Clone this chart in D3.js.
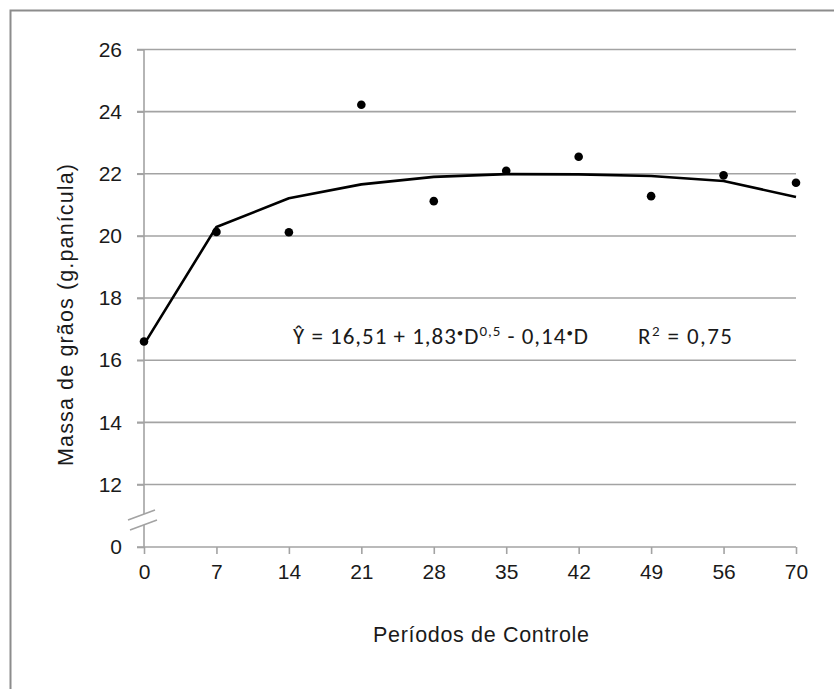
<!DOCTYPE html>
<html><head><meta charset="utf-8">
<script src="https://cdn.jsdelivr.net/npm/d3@7"></script>
<style>body{margin:0;background:#fff;}svg{display:block;}</style>
</head><body>
<script>
const periods = ["0","7","14","21","28","35","42","49","56","70"];
const observed = [16.6, 20.13, 20.12, 24.22, 21.12, 22.1, 22.55, 21.28, 21.95, 21.71];
const fitted = [16.51, 20.29, 21.21, 21.66, 21.9, 21.99, 21.98, 21.93, 21.77, 21.25];
const yTicks = [0, 12, 14, 16, 18, 20, 22, 24, 26];

const W = 834, H = 689;
const svg = d3.select("body").append("svg").attr("width", W).attr("height", H);
const sans = "Liberation Sans, Arial, sans-serif";
const ink = "#1a1a1a";

// frame
svg.append("path").attr("d", `M10.5,${H} V10.5 H${W}`).attr("fill","none").attr("stroke","#8c8c8c").attr("stroke-width",2);

const x = d3.scalePoint().domain(periods).range([144, 796]);
const y = d3.scaleLinear().domain([0, 12, 26]).range([547, 484.5, 49.5]);

const grid = "#a3a3a3";
// gridlines
svg.append("g").selectAll("line").data(yTicks.filter(d => d > 0)).join("line")
  .attr("x1", 137).attr("x2", 796).attr("y1", d => y(d)).attr("y2", d => y(d))
  .attr("stroke", grid).attr("stroke-width", 1.6);

// y axis
const yAxis = svg.append("g").attr("transform", "translate(144,0)")
  .call(d3.axisLeft(y).tickValues(yTicks).tickSize(7).tickPadding(15));
yAxis.select(".domain").attr("stroke", grid).attr("stroke-width", 1.6).attr("d", `M0,${y(26)}V${y(0)}`);
yAxis.selectAll(".tick line").attr("stroke", grid).attr("stroke-width", 1.6);
yAxis.selectAll("text").attr("font-family", sans).attr("font-size", 21).attr("fill", ink);

// x axis
const xAxis = svg.append("g").attr("transform", `translate(0,${y(0)})`)
  .call(d3.axisBottom(x).tickSize(7).tickPadding(10));
xAxis.select(".domain").attr("stroke", grid).attr("stroke-width", 1.6).attr("d", `M137,0H796`);
xAxis.selectAll(".tick line").attr("stroke", grid).attr("stroke-width", 1.6);
xAxis.selectAll("text").attr("font-family", sans).attr("font-size", 21).attr("fill", ink);

// axis break
svg.append("path").attr("d", "M128,520 L155,510 L157,520 L130,530 Z").attr("fill", "#fff");
svg.append("path").attr("d", "M128,520 L155,510 M130,530 L157,520").attr("stroke", grid).attr("stroke-width", 1.6).attr("fill","none");

// fitted curve
const line = d3.line().x((d, i) => x(periods[i])).y(d => y(d));
svg.append("path").datum(fitted).attr("d", line).attr("fill", "none").attr("stroke", "#000").attr("stroke-width", 2.6).attr("stroke-linejoin","round");

// observed points
svg.append("g").selectAll("circle").data(observed).join("circle")
  .attr("cx", (d, i) => x(periods[i])).attr("cy", d => y(d)).attr("r", 4.3).attr("fill", "#000");

// axis titles
svg.append("text").attr("transform", "translate(73,315) rotate(-90)").attr("text-anchor", "middle")
  .attr("font-family", sans).attr("font-size", 21.5).attr("fill", ink)
  .attr("textLength", 302).attr("lengthAdjust", "spacing")
  .text("Massa de grãos (g.panícula)");
svg.append("text").attr("x", 481).attr("y", 642).attr("text-anchor", "middle")
  .attr("font-family", sans).attr("font-size", 21.5).attr("fill", ink)
  .attr("textLength", 216).attr("lengthAdjust", "spacing")
  .text("Períodos de Controle");

// equation
const eqFont = "Carlito, Lato, 'Open Sans', sans-serif";
const eq = svg.append("text").attr("x", 293).attr("y", 344).attr("font-family", eqFont).attr("font-size", 23).attr("fill", ink);
const main = [];
main.push(eq.append("tspan").text("Ŷ = 16,51 + 1,83"));
main.push(eq.append("tspan").attr("dy", -7).attr("font-size", 13).text("•"));
main.push(eq.append("tspan").attr("dy", 7).text("D"));
main.push(eq.append("tspan").attr("dy", -8).attr("font-size", 15).text("0,5"));
main.push(eq.append("tspan").attr("dy", 8).text(" - 0,14"));
main.push(eq.append("tspan").attr("dy", -7).attr("font-size", 13).text("•"));
main.push(eq.append("tspan").attr("dy", 7).text("D"));
// stretch spacing so the equation spans the same width as in the reference
const natural = eq.node().getComputedTextLength();
const nChars = main.reduce((s, t) => s + t.text().length, 0);
const ls = Math.max(0, (296 - natural) / nChars);
main.forEach(t => t.attr("letter-spacing", ls));

const r2 = svg.append("text").attr("x", 638).attr("y", 344).attr("font-family", eqFont).attr("font-size", 23).attr("fill", ink)
  .attr("textLength", 94).attr("lengthAdjust", "spacing");
r2.append("tspan").text("R");
r2.append("tspan").attr("dy", -8).attr("font-size", 15).text("2");
r2.append("tspan").attr("dy", 8).text("  = 0,75");
</script>
</body></html>
